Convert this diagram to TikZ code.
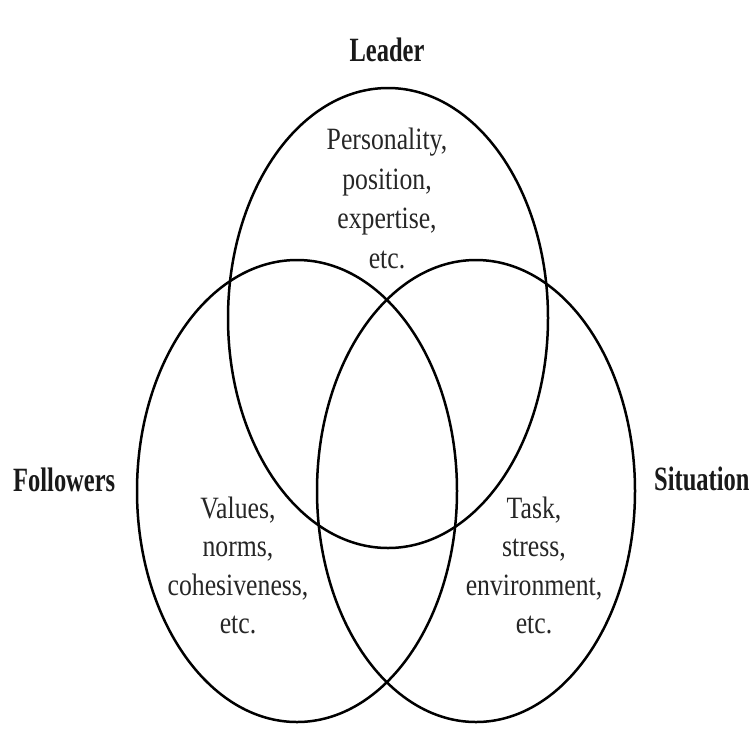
\documentclass[tikz,border=0pt]{standalone}
\usepackage{fontspec}
\setmainfont{Liberation Serif}
\newfontfamily\bodyfont[FakeStretch=0.83]{Liberation Serif}
\newfontfamily\labfont[FakeStretch=0.72]{Liberation Serif Bold}
\begin{document}
\begin{tikzpicture}[x=1pt,y=-1pt,
  ring/.style={line width=2.5pt, draw=black},
  bodytxt/.style={anchor=base, inner sep=0pt, font=\bodyfont\fontsize{31}{36}\selectfont, text=black!85},
  labtxt/.style={inner sep=0pt, font=\labfont\fontsize{34}{40}\selectfont, text=black!90}]
\useasboundingbox[fill=white] (0,0) rectangle (751,747);
% ellipses
\coordinate (cL) at (388,318);
\coordinate (cF) at (297,491);
\coordinate (cS) at (476,491);
\draw[ring] (cL) ellipse [x radius=160, y radius=230];
\draw[ring] (cF) ellipse [x radius=160, y radius=231];
\draw[ring] (cS) ellipse [x radius=159, y radius=231];
% labels
\node[labtxt, anchor=base] (leader) at (387,61) {Leader};
\node[labtxt, anchor=base west] (followers) at (13,491) {Followers};
\node[labtxt, anchor=base west] (situation) at (654,490) {Situation};
% leader text
\node[bodytxt] (l1) at (387,149) {Personality,};
\node[bodytxt] (l2) at (387,189) {position,};
\node[bodytxt] (l3) at (387,228) {expertise,};
\node[bodytxt] (l4) at (387,268) {etc.};
% followers text
\node[bodytxt] (f1) at (238,518) {Values,};
\node[bodytxt] (f2) at (238,556) {norms,};
\node[bodytxt] (f3) at (238,595) {cohesiveness,};
\node[bodytxt] (f4) at (238,633) {etc.};
% situation text
\node[bodytxt] (s1) at (534,518) {Task,};
\node[bodytxt] (s2) at (534,556) {stress,};
\node[bodytxt] (s3) at (534,595) {environment,};
\node[bodytxt] (s4) at (534,633) {etc.};
\end{tikzpicture}
\end{document}
